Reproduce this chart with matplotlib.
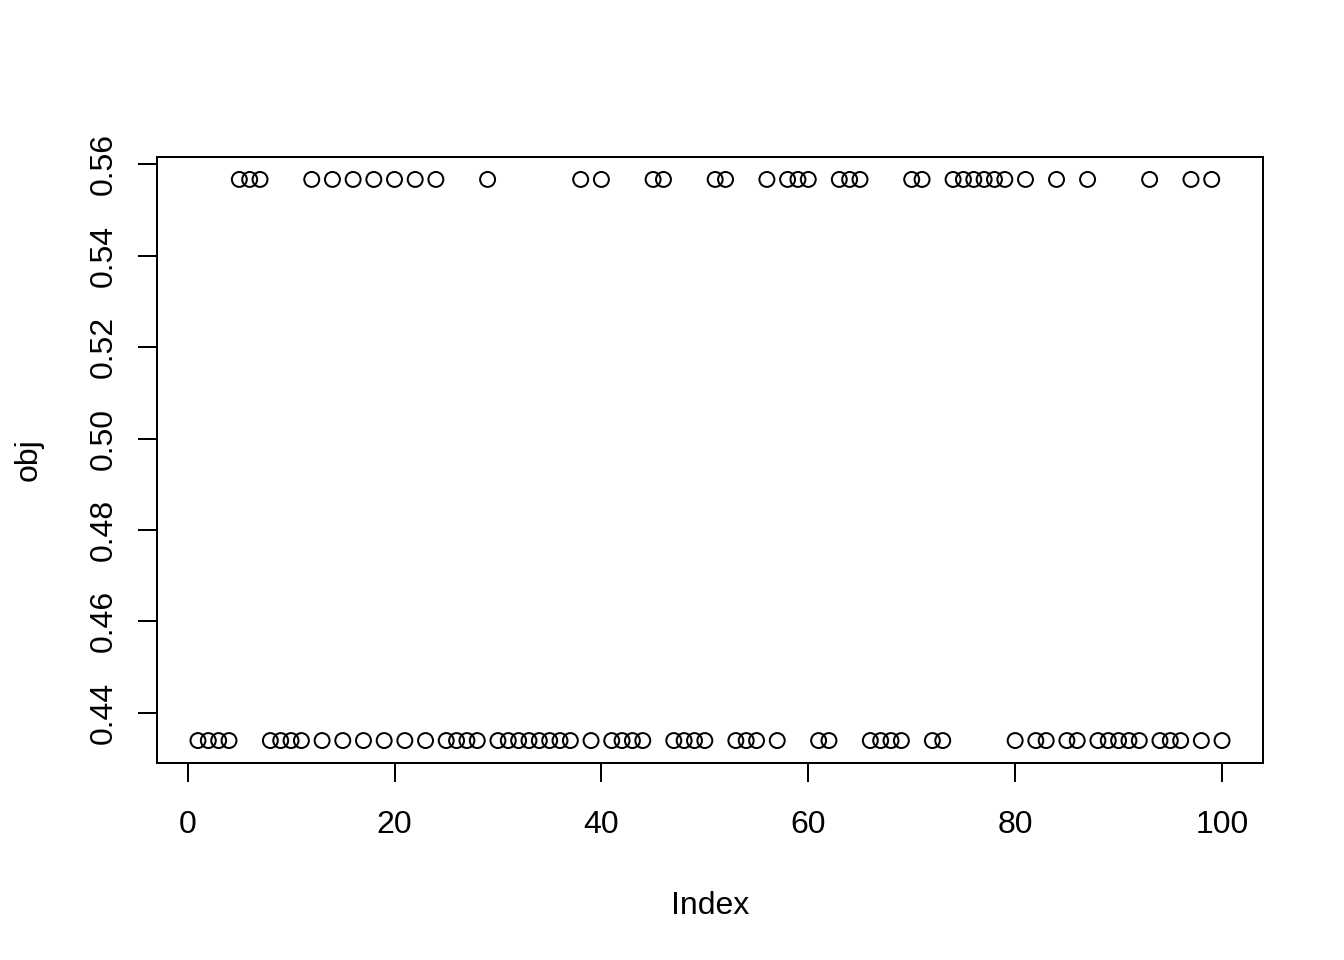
import matplotlib
matplotlib.use("Agg")
import matplotlib.pyplot as plt

# values: two levels only
hi_val = 0.5567
lo_val = 0.4339
hi_idx = [5, 6, 7, 12, 14, 16, 18, 20, 22, 24, 29, 38, 40, 45, 46, 51, 52, 56,
          58, 59, 60, 63, 64, 65, 70, 71, 74, 75, 76, 77, 78, 79, 81, 84, 87,
          93, 97, 99]
index = list(range(1, 101))
obj = [hi_val if i in hi_idx else lo_val for i in index]

xticks = [0, 20, 40, 60, 80, 100]
yticks = [0.44, 0.46, 0.48, 0.50, 0.52, 0.54, 0.56]

plt.rcParams['font.family'] = ['Liberation Sans', 'DejaVu Sans']
fig = plt.figure(figsize=(7, 5), dpi=192)
ax = fig.add_axes([157 / 1344, 1 - 763 / 960, (1263 - 157) / 1344, (763 - 157) / 960])

ax.scatter(index, obj, s=5.6 ** 2, facecolors='none', edgecolors='black', linewidths=0.75)

# R style 4% range extension
xr = max(index) - min(index)
ax.set_xlim(min(index) - 0.04 * xr, max(index) + 0.04 * xr)
yr = max(obj) - min(obj)
ax.set_ylim(min(obj) - 0.04 * yr, max(obj) + 0.04 * yr)

ax.set_xticks(xticks)
ax.set_xticklabels([str(t) for t in xticks])
ax.set_yticks(yticks)
ax.set_yticklabels([f"{t:.2f}" for t in yticks], rotation=90, va='center')
ax.tick_params(length=7.2, width=0.75, labelsize=12, color='black')
ax.tick_params(axis='x', pad=10.5)
ax.tick_params(axis='y', pad=7)
for s in ax.spines.values():
    s.set_linewidth(0.75)

ax.set_xlabel('Index', fontsize=12, labelpad=19)
ax.set_ylabel('obj', fontsize=12, labelpad=17)

fig.savefig('out.png', dpi=192)
